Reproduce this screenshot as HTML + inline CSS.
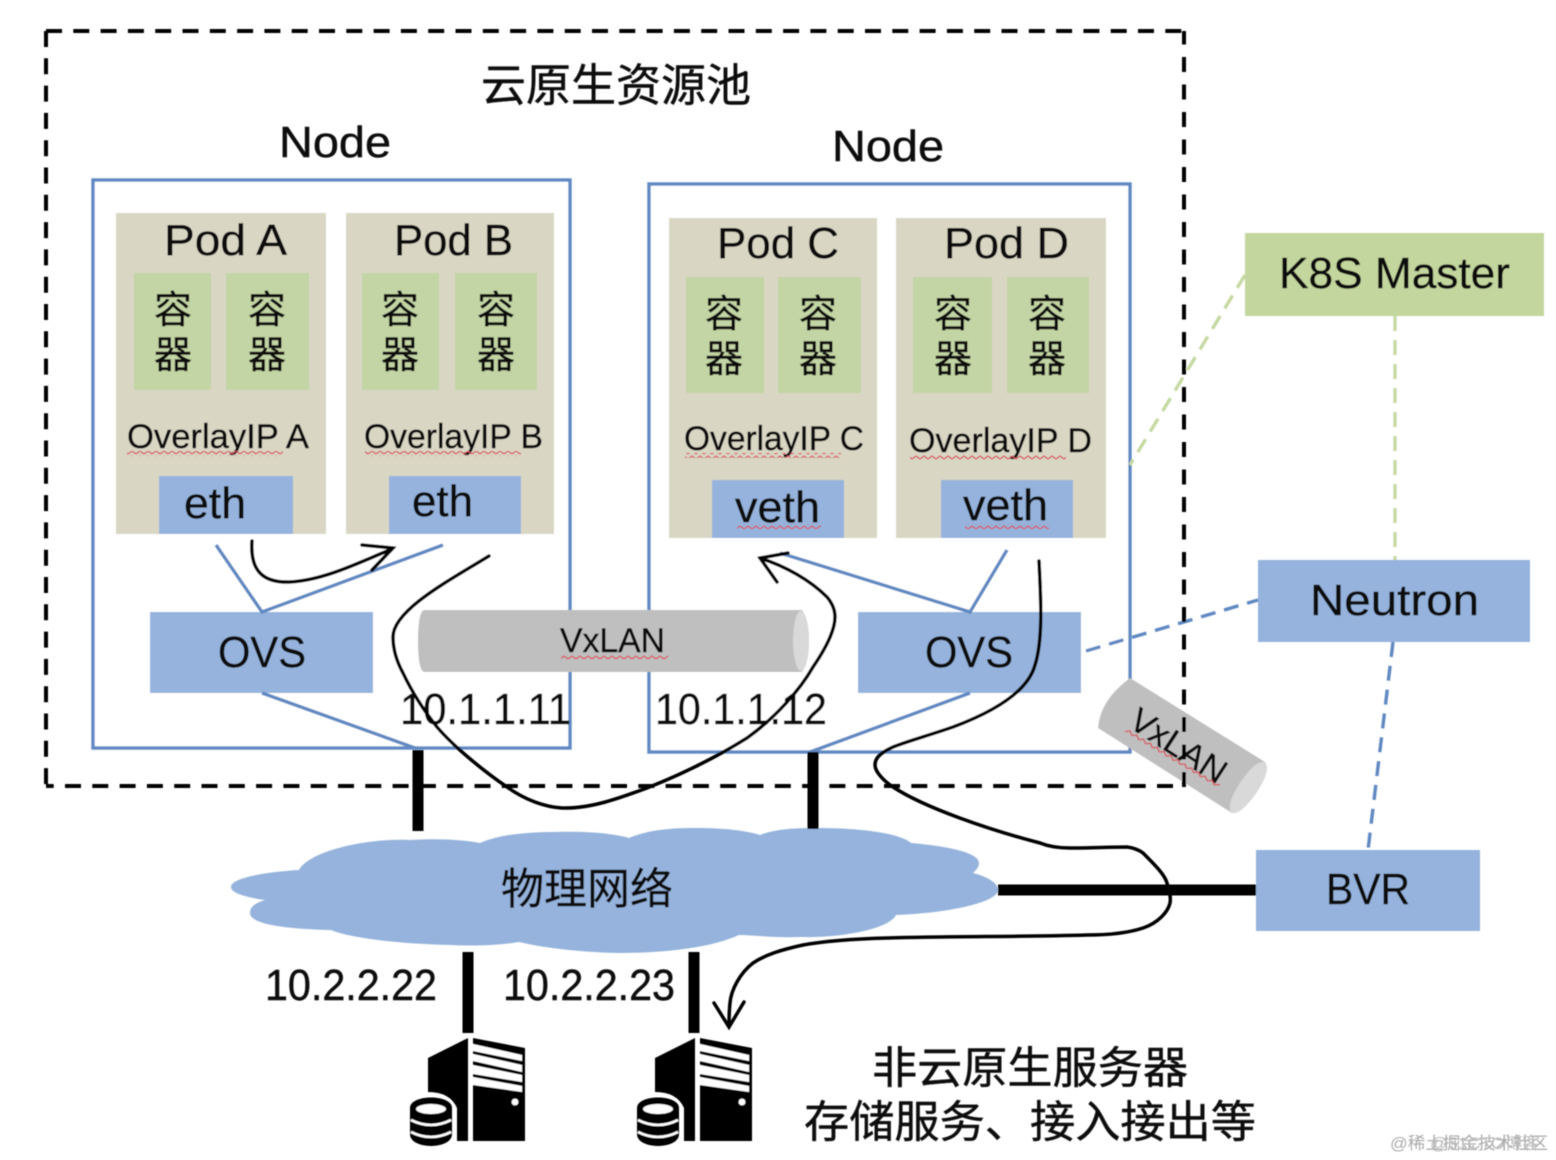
<!DOCTYPE html>
<html><head><meta charset="utf-8"><style>
html,body{margin:0;padding:0;background:#fff}
svg{display:block}
text{font-family:"Liberation Sans","Noto Sans CJK SC",sans-serif;fill:#0c0c0c;stroke:#0c0c0c;stroke-width:.45px}
</style></head><body>
<svg width="1556" height="1160" viewBox="0 0 1556 1160" xmlns="http://www.w3.org/2000/svg">
<defs>
<pattern id="w" width="8" height="5" patternUnits="userSpaceOnUse"><path d="M0 4L4 1L8 4" fill="none" stroke="#d8505a" stroke-width="1.3"/></pattern>
<filter id="b" x="-2%" y="-2%" width="104%" height="104%"><feGaussianBlur stdDeviation="0.6"/></filter>
<g id="srv">
<path d="M428 1058L468 1038V1141H457V1108Q450 1092 428 1092Z" fill="#000"/>
<path d="M473 1038L525 1048V1141H473Z" fill="#000"/>
<path d="M473 1044L522 1055V1061L473 1051ZM473 1054L522 1065V1072L473 1061ZM473 1065L522 1075V1082L473 1074ZM473 1077L522 1086V1092L473 1085Z" fill="#fff"/>
<circle cx="515" cy="1102" r="3.4" fill="#fff"/>
<path d="M410 1108C410 1094 452 1094 452 1108V1134C452 1150 410 1150 410 1134Z" fill="#000"/>
<ellipse cx="431" cy="1109" rx="15" ry="5" fill="#fff"/>
<path d="M411 1120Q431 1130 451 1120M411 1132Q431 1142 451 1132" fill="none" stroke="#fff" stroke-width="2.6"/>
</g>
</defs>
<g filter="url(#b)">
<g fill="none" stroke="#000" stroke-width="4" stroke-dasharray="16 11.3">
<path d="M46 31H1184"/><path d="M46 31V786"/><path d="M1173 786H46"/>
</g>
<rect x="93" y="180" width="477" height="568" fill="#fff" stroke="#6089c2" stroke-width="3.4"/>
<rect x="649" y="184" width="481" height="568" fill="#fff" stroke="#6089c2" stroke-width="3.4"/>
<g fill="#d9d6c4">
<rect x="116" y="213" width="210" height="321"/><rect x="346" y="213" width="208" height="321"/>
<rect x="669" y="218" width="208" height="320"/><rect x="896" y="218" width="210" height="320"/>
</g>
<g fill="#c3d5a4">
<rect x="134" y="273" width="77" height="117"/><rect x="226" y="273" width="83" height="117"/>
<rect x="362" y="273" width="77" height="117"/><rect x="455" y="273" width="82" height="117"/>
<rect x="686" y="277" width="78" height="116"/><rect x="778" y="277" width="83" height="116"/>
<rect x="913" y="277" width="79" height="116"/><rect x="1007" y="277" width="82" height="116"/>
</g>
<g fill="#95b3dc">
<rect x="159" y="476" width="134" height="58"/><rect x="389" y="476" width="132" height="58"/>
<rect x="712" y="480" width="132" height="58"/><rect x="941" y="480" width="132" height="58"/>
<rect x="150" y="612" width="223" height="81"/><rect x="858" y="612" width="223" height="81"/>
<rect x="1258" y="560" width="272" height="82"/><rect x="1256" y="850" width="224" height="81"/>
<path d="M299 870C310 850 370 838 409 840C440 838 465 840 480 843C500 834 530 832 556 832C590 831 615 834 629 838C650 829 675 828 697 828C725 828 748 831 760 835C775 829 795 828 817 828C860 828 900 833 911 843C945 846 979 852 979 863C979 868 975 871 973 873C985 876 998 882 998 890C998 902 950 913 896 915C890 928 845 938 801 937C775 938 750 935 739 935C710 948 665 953 618 953C575 952 540 947 519 942C495 946 470 946 451 945C400 944 350 938 331 930C290 929 250 925 250 913C250 907 255 903 265 900C245 897 231 893 231 887C231 878 265 872 299 870Z"/>
</g>
<rect x="1245" y="233" width="299" height="83" fill="#c3d69e"/>
<g fill="none" stroke="#6089c2" stroke-width="3.4">
<path d="M216 545L262 612L443 545M262 693L415 748M780 553L970 612L1007 550M970 693L810 752"/>
</g>
<g fill="none" stroke-width="3.4" stroke-dasharray="15 9">
<path d="M1245 275L1130 465M1395 316V560" stroke="#c6d9a3"/>
<path d="M1086 651L1258 600M1393 642L1368 850" stroke="#6089c2"/>
</g>
<g stroke="#000" stroke-width="11" fill="none">
<path d="M418 750V831M813 752V829M998 890H1256M468 952V1033M694 952V1033"/>
</g>
<!-- horizontal cylinder -->
<path d="M424 610H802Q809 620 809 641Q809 662 802 672H424Q418 670 418 641Q418 612 424 610Z" fill="#bfbfbf"/>
<ellipse cx="801" cy="641" rx="8" ry="30" fill="#d9d9d9"/>
<!-- rotated cylinder -->
<path d="M1130 678L1265 762Q1262 790 1232 813L1098 728Q1100 700 1130 678Z" fill="#bfbfbf"/>
<path d="M1265 762Q1272 770 1255 795Q1240 815 1232 813Q1225 806 1240 783Q1255 760 1265 762Z" fill="#d9d9d9"/>

<!-- labels -->
<text x="481" y="101" font-size="45" textLength="270" lengthAdjust="spacingAndGlyphs">云原生资源池</text>
<g font-size="44">
<text x="279" y="157" textLength="112" lengthAdjust="spacingAndGlyphs">Node</text>
<text x="832" y="161" textLength="112" lengthAdjust="spacingAndGlyphs">Node</text>
<text x="164" y="255" textLength="123" lengthAdjust="spacingAndGlyphs">Pod A</text>
<text x="394" y="255" textLength="119" lengthAdjust="spacingAndGlyphs">Pod B</text>
<text x="717" y="258" textLength="122" lengthAdjust="spacingAndGlyphs">Pod C</text>
<text x="944" y="258" textLength="125" lengthAdjust="spacingAndGlyphs">Pod D</text>
<text x="184" y="518" textLength="62" lengthAdjust="spacingAndGlyphs">eth</text>
<text x="412" y="516" textLength="61" lengthAdjust="spacingAndGlyphs">eth</text>
<text x="735" y="522" textLength="85" lengthAdjust="spacingAndGlyphs">veth</text>
<text x="963" y="520" textLength="85" lengthAdjust="spacingAndGlyphs">veth</text>
<text x="218" y="667" textLength="88" lengthAdjust="spacingAndGlyphs">OVS</text>
<text x="925" y="667" textLength="88" lengthAdjust="spacingAndGlyphs">OVS</text>
<text x="1279" y="288" textLength="231" lengthAdjust="spacingAndGlyphs">K8S Master</text>
<text x="1310" y="615" textLength="169" lengthAdjust="spacingAndGlyphs">Neutron</text>
<text x="1326" y="904" textLength="84" lengthAdjust="spacingAndGlyphs">BVR</text>
<text x="400" y="724" textLength="171" lengthAdjust="spacingAndGlyphs">10.1.1.11</text>
<text x="655" y="724" textLength="172" lengthAdjust="spacingAndGlyphs">10.1.1.12</text>
<text x="265" y="1000" textLength="172" lengthAdjust="spacingAndGlyphs">10.2.2.22</text>
<text x="503" y="1000" textLength="172" lengthAdjust="spacingAndGlyphs">10.2.2.23</text>
</g>
<g font-size="38">
<text x="154" y="323">容</text><text x="154" y="368">器</text>
<text x="248" y="323">容</text><text x="248" y="368">器</text>
<text x="381" y="323">容</text><text x="381" y="368">器</text>
<text x="477" y="323">容</text><text x="477" y="368">器</text>
<text x="705" y="327">容</text><text x="705" y="372">器</text>
<text x="799" y="327">容</text><text x="799" y="372">器</text>
<text x="934" y="327">容</text><text x="934" y="372">器</text>
<text x="1028" y="327">容</text><text x="1028" y="372">器</text>
</g>
<g font-size="34">
<text x="127" y="448" textLength="182" lengthAdjust="spacingAndGlyphs">OverlayIP A</text>
<text x="364" y="448" textLength="179" lengthAdjust="spacingAndGlyphs">OverlayIP B</text>
<text x="684" y="450" textLength="180" lengthAdjust="spacingAndGlyphs">OverlayIP C</text>
<text x="909" y="452" textLength="183" lengthAdjust="spacingAndGlyphs">OverlayIP D</text>
<text x="560" y="652" textLength="105" lengthAdjust="spacingAndGlyphs">VxLAN</text>
<text transform="translate(1127 726) rotate(33)" textLength="108" lengthAdjust="spacingAndGlyphs">VxLAN</text>
</g>
<g fill="url(#w)">
<rect x="127" y="451" width="156" height="5"/><rect x="365" y="451" width="156" height="5"/>
<rect x="685" y="453" width="156" height="5"/><rect x="910" y="455" width="156" height="5"/>
<rect x="737" y="524" width="84" height="5"/><rect x="965" y="524" width="84" height="5"/>
<rect x="561" y="655" width="107" height="5"/>
<rect transform="translate(1127 728) rotate(31)" width="109" height="5"/>
</g>
<g fill="none" stroke="#000" stroke-width="4" stroke-dasharray="15 12.5">
<path d="M1184 787V31"/>
</g>
<text x="501" y="904" font-size="43" textLength="172" lengthAdjust="spacingAndGlyphs">物理网络</text>
<text x="872" y="1083" font-size="44" textLength="316" lengthAdjust="spacingAndGlyphs">非云原生服务器</text>
<text x="804" y="1137" font-size="44" textLength="452" lengthAdjust="spacingAndGlyphs">存储服务、接入接出等</text>
<use href="#srv"/><use href="#srv" x="227"/>
<!-- curves -->
<g fill="none" stroke="#000" stroke-width="3.5" stroke-linecap="round">
<path d="M252 541C250 570 262 583 290 582C325 580 360 562 392 549M362 545L393 548L372 570"/>
<path d="M489 556C450 580 393 610 393 637C393 650 397 662 403 673C412 692 425 712 437 727C455 748 485 772 507 787C525 800 545 807 562 808C590 809 620 798 647 788C680 775 715 758 747 738C775 718 800 690 813 667C826 648 835 630 835 617C835 610 832 603 827 597C810 580 785 566 760 558M788 553L760 558L777 582"/>
<path d="M1039 561C1041 600 1043 640 1035 665C1027 695 985 715 953 727C930 735 905 742 893 747C880 753 875 758 875 765C875 772 884 781 893 787C925 808 990 830 1040 843C1050 847 1060 848 1070 848C1090 848 1110 847 1127 847C1135 848 1139 850 1143 853C1155 865 1165 875 1167 883C1170 892 1171 898 1170 903C1168 912 1158 923 1143 928C1125 934 1105 935 1087 935C1020 937 950 936 887 938C850 939 825 941 803 945C780 950 765 955 753 963C740 973 731 990 730 1003C729 1012 729 1020 729 1027M714 1003L729 1027L744 1002"/>
</g>
</g>
<g font-size="17" filter="url(#b)">
<text x="1390" y="1149" style="fill:#aaa;stroke:none" textLength="158" lengthAdjust="spacingAndGlyphs">@稀土掘金技术社区</text>
<text x="1430" y="1149" style="fill:#bbb;stroke:none" textLength="110" lengthAdjust="spacingAndGlyphs">@51CTO博客</text>
</g>
</svg>
</body></html>
